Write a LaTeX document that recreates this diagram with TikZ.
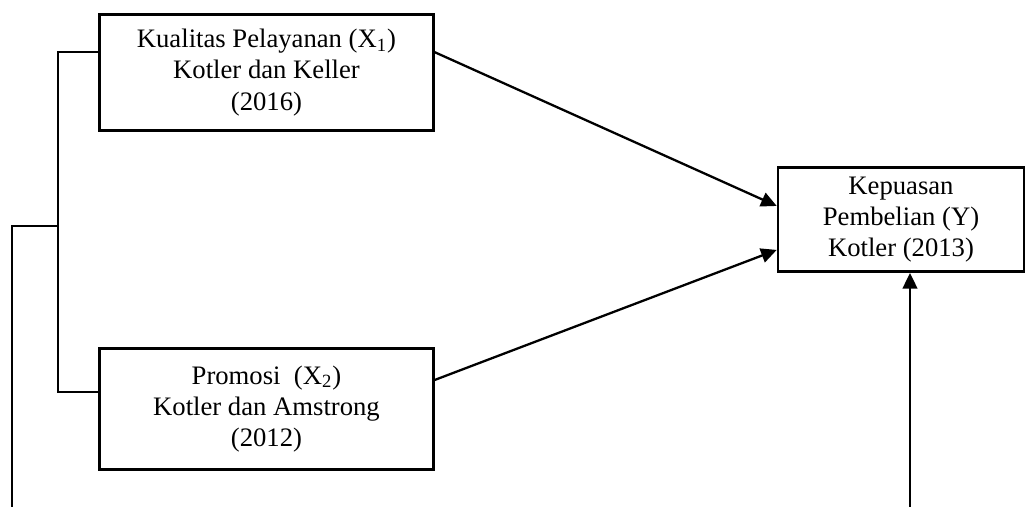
\documentclass[tikz,border=0pt]{standalone}
\usepackage{fontspec}
\setmainfont{Liberation Serif}
\usetikzlibrary{arrows.meta,positioning,calc}
\tikzset{
  >={Triangle[length=7.5pt,width=7pt]},
  var/.style={rectangle,draw,line width=1.3pt,align=center,inner sep=2pt,
    font=\fontsize{12.8}{15}\selectfont},
  tr/.style={->, line width=1.1pt},
  ln/.style={line width=0.9pt}
}

\begin{document}
\begin{tikzpicture}[x=0.48pt, y=-0.48pt]
    \useasboundingbox (0,0) rectangle (1026,507);

    % Variables
    \node[var, minimum width=160pt, minimum height=56pt] (x1) at (266.5,72.5)
        {Kualitas Pelayanan (X\textsubscript{1})\\Kotler dan Keller\\(2016)};
    \node[var, minimum width=160pt, minimum height=58pt] (x2) at (266.5,409)
        {Promosi~~(X\textsubscript{2})\\Kotler dan Amstrong\\(2012)};
    \node[var, minimum width=118pt, minimum height=50pt] (y) at (901,219.5)
        {Kepuasan\\Pembelian (Y)\\Kotler (2013)};

    % Helper points of the bracket
    \coordinate (jn) at (58,226);
    \coordinate (lf) at (12,226);
    \coordinate (lb) at (12,507);
    \coordinate (ub) at (910,507);

    % Bracket joining X1 and X2
    \draw[ln] ([yshift=9.8pt]x1.west) -| (jn) |- ([yshift=8.2pt]x2.west);
    \draw[ln] (jn) -- (lf) -- (lb);

    % Paths to Y
    \draw[tr] ([yshift=9.8pt]x1.east) -- ([yshift=6.5pt]y.west);
    \draw[tr] ([yshift=13.9pt]x2.east) -- ([yshift=-14.6pt]y.west);
    \draw[tr] (ub) -- (y.south -| ub);
\end{tikzpicture}
\end{document}
